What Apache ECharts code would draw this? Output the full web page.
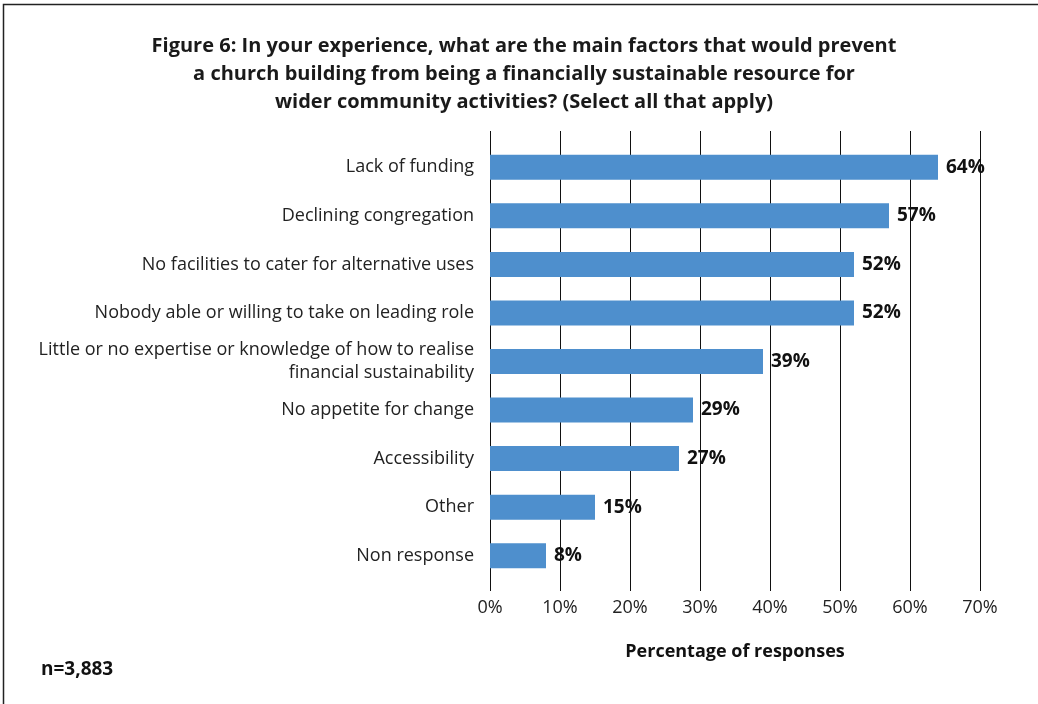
<!DOCTYPE html>
<html>
<head>
<meta charset="utf-8">
<script src="https://cdn.jsdelivr.net/npm/echarts@6/dist/echarts.min.js"></script>
<style>
  html, body { margin: 0; padding: 0; background: #fff; }
  #chart { width: 1038px; height: 704px; }
</style>
</head>
<body>
<div id="chart"></div>
<script>
const categories = [
  'Lack of funding',
  'Declining congregation',
  'No facilities to cater for alternative uses',
  'Nobody able or willing to take on leading role',
  'Little or no expertise or knowledge of how to realise\nfinancial sustainability',
  'No appetite for change',
  'Accessibility',
  'Other',
  'Non response'
];
const values = [64, 57, 52, 52, 39, 29, 27, 15, 8];
const tickLabels = ['0%', '10%', '20%', '30%', '40%', '50%', '60%', '70%'];

const FONT = '"Open Sans", "Noto Sans", sans-serif';

const dom = document.getElementById('chart');
const myChart = echarts.init(dom, null, { renderer: 'canvas' });

const option = {
  animation: false,
  textStyle: { fontFamily: FONT },
  title: {
    text: 'Figure 6: In your experience, what are the main factors that would prevent\na church building from being a financially sustainable resource for\nwider community activities? (Select all that apply)',
    left: 519,
    top: 27,
    textAlign: 'center',
    textStyle: {
      fontFamily: FONT,
      fontSize: 20,
      fontWeight: 'bold',
      color: '#1a1a1a',
      lineHeight: 28,
      align: 'center'
    }
  },
  grid: [
    { left: 490, top: 131, width: 490, height: 460 },
    { left: 490, top: 143, width: 490, height: 437 }
  ],
  xAxis: [
    {
      gridIndex: 0,
      type: 'value',
      min: 0,
      max: 70,
      interval: 10,
      axisLine: { show: false },
      axisTick: { show: false },
      splitLine: { show: true, lineStyle: { color: '#111', width: 1 } },
      axisLabel: {
        margin: 8,
        fontSize: 18,
        color: '#222',
        formatter: (v) => tickLabels[Math.round(v / 10)]
      },
      name: 'Percentage of responses',
      nameLocation: 'middle',
      nameGap: 52,
      nameTextStyle: { fontSize: 18, fontWeight: 'bold', color: '#111' }
    },
    {
      gridIndex: 1,
      type: 'value',
      min: 0,
      max: 70,
      show: false
    }
  ],
  yAxis: [
    {
      gridIndex: 0,
      type: 'category',
      show: false,
      data: categories
    },
    {
      gridIndex: 1,
      type: 'category',
      inverse: true,
      data: categories,
      axisLine: { show: false },
      axisTick: { show: false },
      axisLabel: {
        margin: 16,
        fontSize: 18,
        color: '#222',
        lineHeight: 23,
        align: 'right'
      }
    }
  ],
  series: [
    {
      type: 'bar',
      xAxisIndex: 1,
      yAxisIndex: 1,
      data: values,
      barWidth: 25,
      itemStyle: { color: '#4e8fcd' },
      label: {
        show: true,
        position: 'right',
        distance: 8,
        formatter: '{c}%',
        fontSize: 19,
        fontWeight: 'bold',
        color: '#111'
      }
    }
  ],
  graphic: [
    {
      type: 'polyline',
      shape: { points: [[3.5, 704], [3.5, 4.5], [1038, 4.5]] },
      style: { stroke: '#222', lineWidth: 1.5, fill: null }
    },
    {
      type: 'text',
      left: 41,
      top: 660,
      style: { text: 'n=3,883', font: 'bold 19px ' + FONT, fill: '#111' }
    }
  ]
};

myChart.setOption(option);
</script>
</body>
</html>
